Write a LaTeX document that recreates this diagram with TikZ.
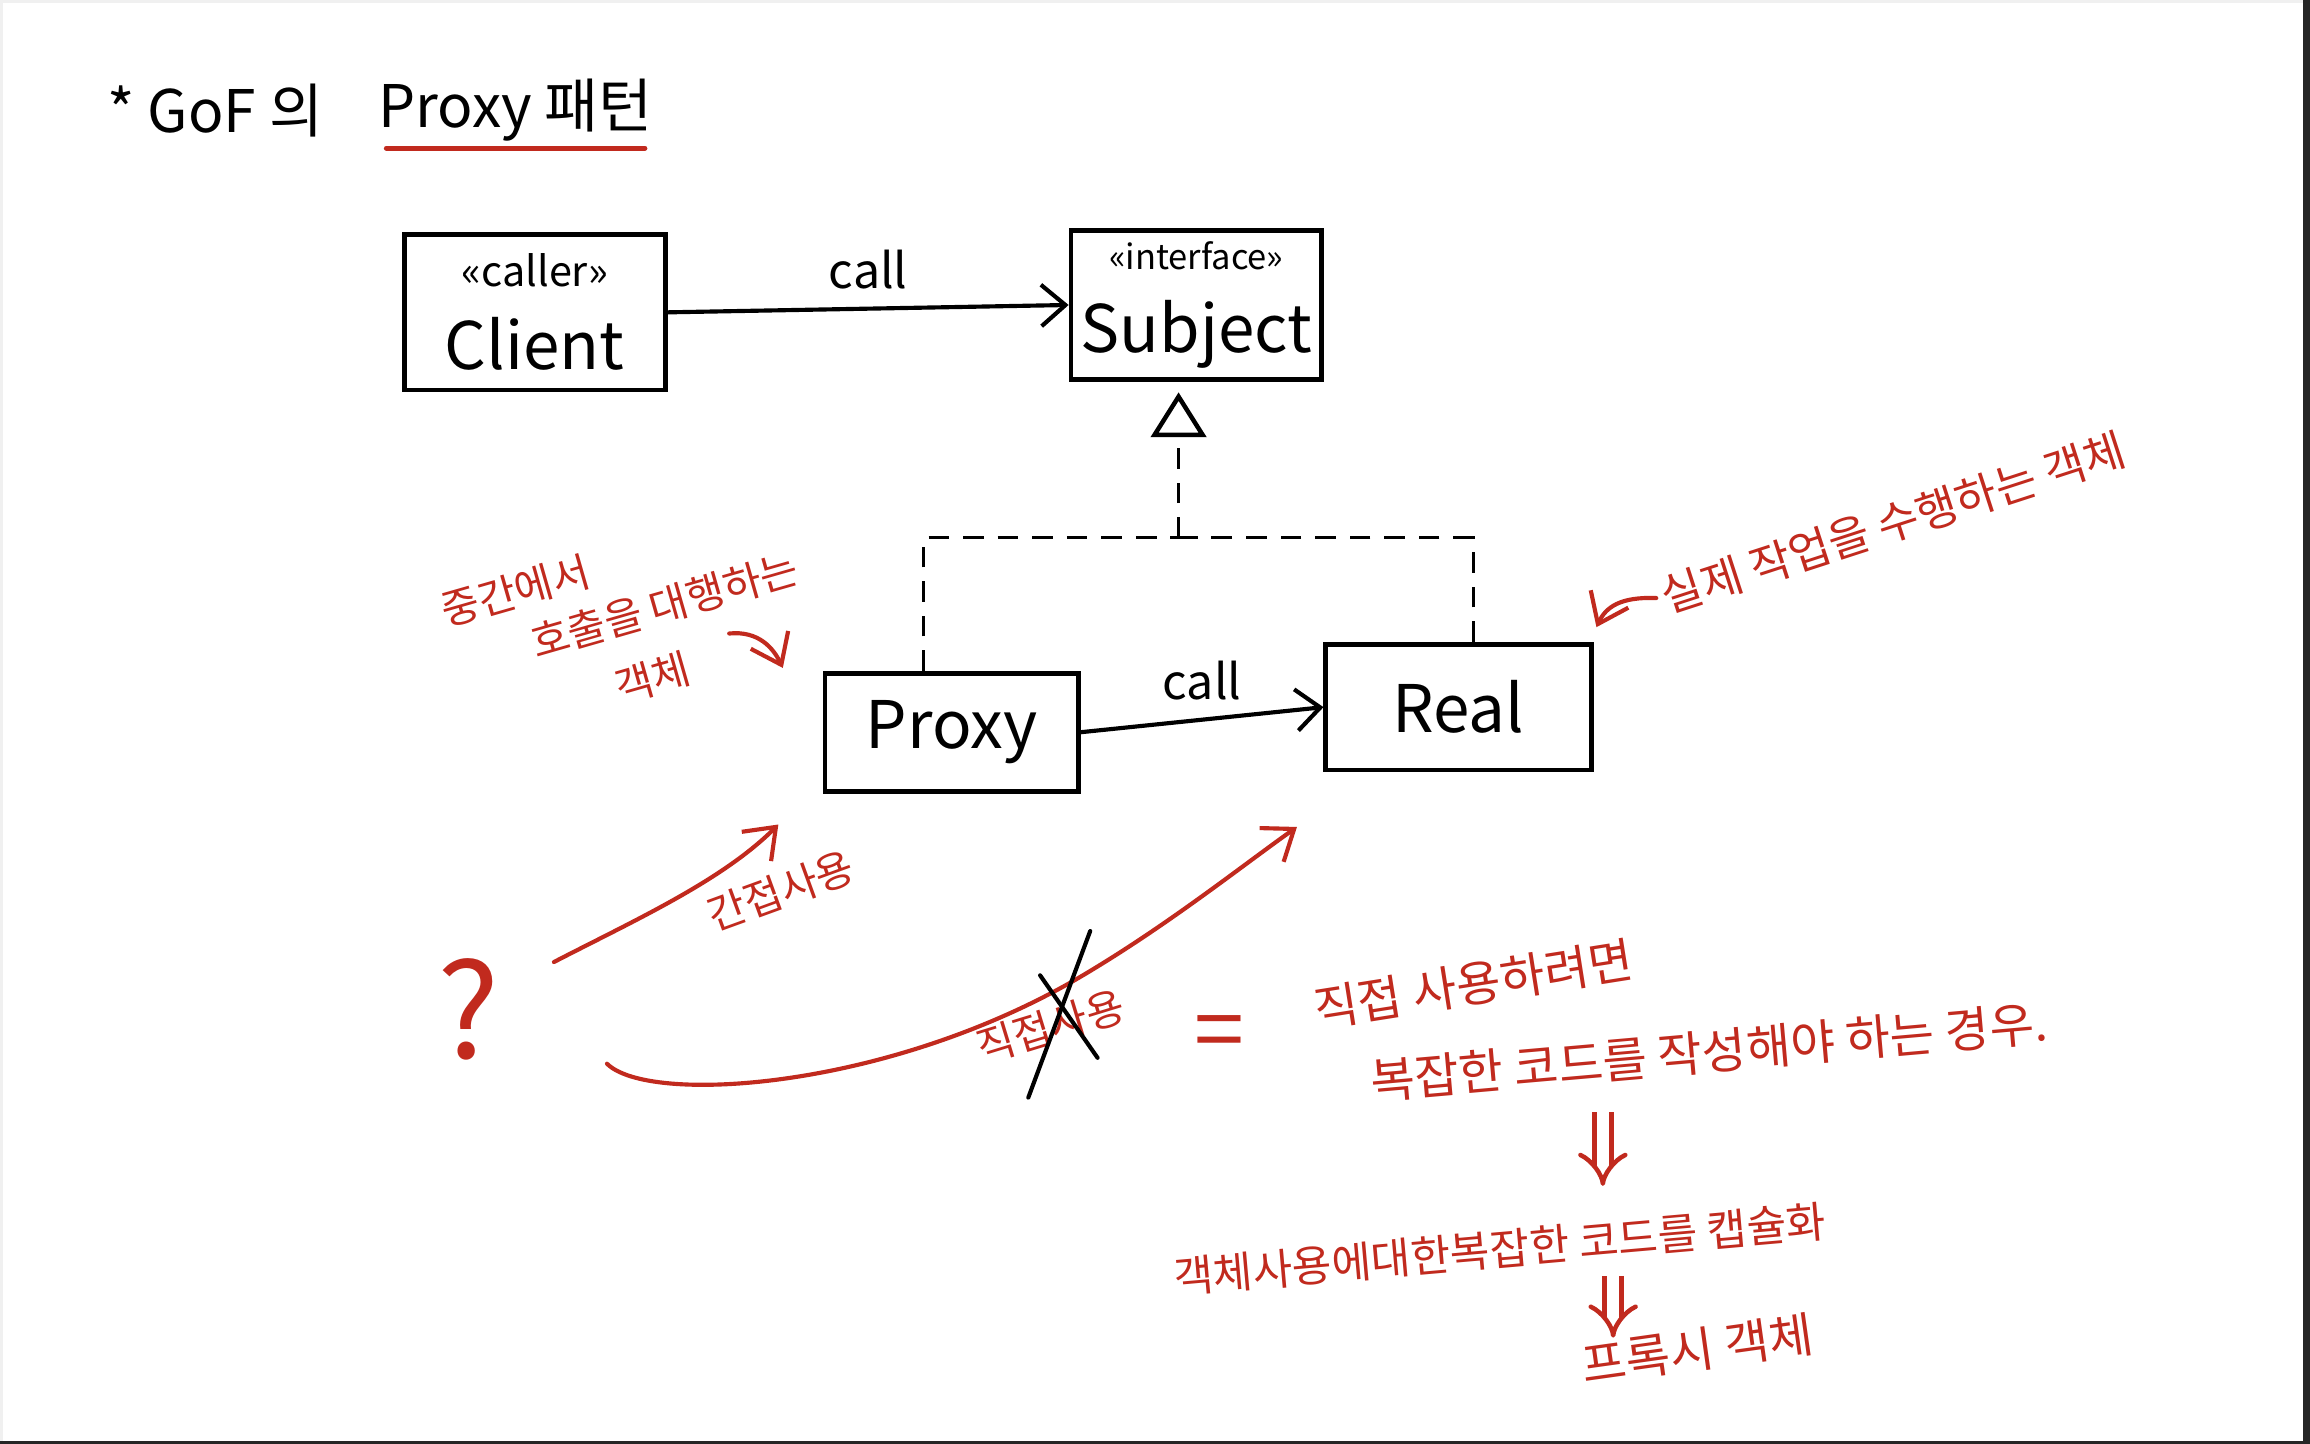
\documentclass[tikz,border=0pt]{standalone}
\usepackage{fontspec}
\setmainfont{Noto Sans CJK KR}
\usepackage{tikz}
\usepackage{xcolor}
\usetikzlibrary{calc}
\usetikzlibrary{arrows.meta}

\definecolor{pen}{RGB}{193,42,30}

\begin{document}
\begin{tikzpicture}[x=0.015cm, y=-0.015cm]

\tikzset{
    box/.style = {
    draw, line width=1.4pt,
    inner sep=0pt, align=center,
    font=\fontsize{19}{22}\selectfont
    }
}

\tikzstyle{titre}=[font=\fontsize{17}{19}\selectfont, inner sep=0pt]
\tikzstyle{appel}=[line width=1.2pt, line cap=round, -{Straight Barb[length=7pt, width=12pt]}]
\tikzstyle{tirets}=[line width=0.9pt, dash pattern=on 6pt off 4pt]
\tikzstyle{annot}=[text=pen, font=\fontsize{12}{14}\selectfont, inner sep=0pt]
\tikzstyle{fleche}=[draw=pen, line width=1.2pt, line cap=round, -{Straight Barb[length=8pt, width=12pt]}]
\tikzstyle{double fleche}=[draw=pen, double=white, double distance=3.6pt, line width=1.3pt, -{Implies}]

\newcommand{\stereo}{\fontsize{12}{14}\selectfont}

% page frame
\fill[black!6] (0,0) rectangle (1568,980);
\fill[white] (2,2) rectangle (1563,978);
\fill[black!85] (1563,0) rectangle (1568,980);
\fill[black!85] (0,978) rectangle (1568,980);
\useasboundingbox (0,0) rectangle (1568,980);

% title
\node (title) [titre] at (146,75) {* GoF 의};
\node (title-p) [titre] at (350,75) {Proxy 패턴};
\draw[pen, line width=1.5pt, line cap=round] ([shift={(6,4)}]title-p.south west) -- ([shift={(-6,4)}]title-p.south east);

% classes
\node (client) [box, minimum width=2.66cm, minimum height=1.58cm] at (363,212) {{\stereo «caller»}\\[2pt]Client};
\node (subject) [box, minimum width=2.55cm, minimum height=1.52cm] at (812,207) {{\fontsize{10}{12}\selectfont «interface»}\\[2pt]Subject};
\node (proxy) [box, minimum width=2.58cm, minimum height=1.2cm] at (646,497) {Proxy};
\node (real) [box, minimum width=2.7cm, minimum height=1.28cm] at (990,480) {Real};

\draw[appel] (client.east) -- node[above=5pt, font=\fontsize{14}{16}\selectfont, inner sep=0pt] (call-1) {call} (subject.west);
\draw[appel] (proxy.east) -- node[above=5pt, font=\fontsize{14}{16}\selectfont, inner sep=0pt] (call-2) {call} (real.west);

% realization
\coordinate (jn) at (800,365);
\draw[tirets] ([shift={(-19,0)}]proxy.north) |- (jn);
\draw[tirets] ([shift={(10,0)}]real.north) |- (jn);
\draw[tirets, -{Triangle[open, length=13pt, width=16pt, line width=1.3pt]}] (jn) -- ([shift={(-12,7)}]subject.south);

% red notes
\node (mid-1) [annot, rotate=16] at (350,401) {중간에서};
\node (mid-2) [annot, rotate=16] at (451,411) {호출을 대행하는};
\node (mid-3) [annot, rotate=16] at (443,460) {객체};
\coordinate (mid-a) at (495,430);
\draw[fleche] (mid-a) .. controls (515,428) and (525,440) .. ([shift={(-27,-2)}]proxy.north west);

\node (real-note) [annot, rotate=18, font=\fontsize{13}{15}\selectfont] at (1285,355) {실제 작업을 수행하는 객체};
\draw[fleche] ([shift={(-4,0)}]real-note.west) .. controls (1100,405) and (1090,412) .. ([shift={(2,-10)}]real.north east);

\node (quest) [annot, font=\fontsize{38}{40}\selectfont] at (318,685) {?};

\draw[fleche] ([shift={(58,-32)}]quest.center) .. controls (430,625) and (490,598) .. ([shift={(-30,21)}]proxy.south west);
\node (indirect) [annot, rotate=20] at (530,605) {간접사용};

\draw[fleche] ([shift={(94,37)}]quest.center) .. controls (440,750) and (600,740) .. (730,665) .. controls (790,630) and (840,590) .. ([shift={(-18,37)}]real.south west);
\node (direct) [annot, rotate=17] at (713,697) {직접사용};
\draw[line width=1.2pt, line cap=round] ([shift={(27,-65)}]direct.center) -- ([shift={(-15,48)}]direct.center);
\draw[line width=1.2pt, line cap=round] ([shift={(-7,-35)}]direct.center) -- ([shift={(32,21)}]direct.center);

\node (egal) [annot, font=\fontsize{26}{28}\selectfont] at (828,705) {=};

\node (cond-1) [annot, rotate=9, font=\fontsize{14}{16}\selectfont] at (1000,668) {직접 사용하려면};
\node (cond-2) [annot, rotate=5, font=\fontsize{14}{16}\selectfont] at (1160,714) {복잡한 코드를 작성해야 하는 경우.};

\coordinate (down-1a) at (1088,755);
\coordinate (down-1b) at (1088,805);
\draw[double fleche] (down-1a) -- (down-1b);

\node (encap) [annot, rotate=5, font=\fontsize{12.5}{15}\selectfont] at (1018,848) {객체사용에대한복잡한 코드를 캡슐화};

\coordinate (down-2a) at (1095,866);
\coordinate (down-2b) at (1095,908);
\draw[double fleche] (down-2a) -- (down-2b);

\node (proxy-obj) [annot, rotate=8, font=\fontsize{14}{16}\selectfont] at (1152,916) {프록시 객체};

\end{tikzpicture}
\end{document}
